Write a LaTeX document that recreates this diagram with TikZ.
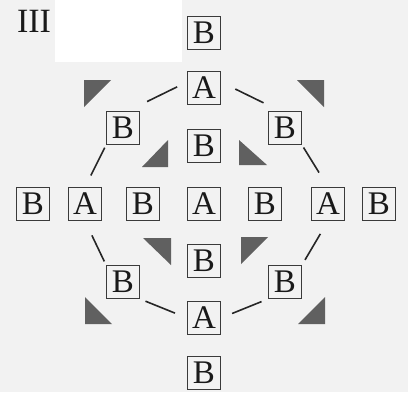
\documentclass[tikz,border=0pt]{standalone}
\usepackage{xcolor}
\usepackage{fontspec}
\setmainfont{Liberation Serif}
\usepackage{tikz}
\usetikzlibrary{positioning}
\definecolor{paper}{HTML}{F2F2F2}
\definecolor{wedgegray}{HTML}{606060}
\definecolor{boxline}{HTML}{3A3A3A}

\tikzset{
  letterbox/.style={draw=boxline, line width=0.9pt, minimum size=33pt, inner sep=0pt,
                    font=\fontsize{33}{33}\selectfont, text=black!90},
  link/.style={line width=1.6pt, draw=black!85},
  wedge/.style={fill=wedgegray}
}

\begin{document}
\begin{tikzpicture}[x=1pt, y=-1pt]
    \fill[paper] (0,0) rectangle (408,392);
    \fill[white] (55,0) rectangle (182,62);
    \useasboundingbox (0,0) rectangle (408,392);

    \node[font=\fontsize{34}{34}\selectfont, text=black!90] (label) at (34,21) {III};

    \node[letterbox] (topB) at (204,33) {B};
    \node[letterbox] (topA) at (204,88) {A};
    \node[letterbox] (leftB) at (123,128) {B};
    \node[letterbox] (rightB) at (285,128) {B};
    \node[letterbox] (upB) at (204,146) {B};

    \node[letterbox] (rowB1) at (33,204) {B};
    \node[letterbox] (rowA1) at (85,204) {A};
    \node[letterbox] (rowB2) at (143,204) {B};
    \node[letterbox] (rowA2) at (204,204) {A};
    \node[letterbox] (rowB3) at (265,204) {B};
    \node[letterbox] (rowA3) at (328,204) {A};
    \node[letterbox] (rowB4) at (379,204) {B};

    \node[letterbox] (downB) at (204,261) {B};
    \node[letterbox] (lowLeftB) at (123,282) {B};
    \node[letterbox] (lowRightB) at (285,282) {B};
    \node[letterbox] (botA) at (204,318) {A};
    \node[letterbox] (botB) at (204,373) {B};

    \draw[link, shorten <=8pt, shorten >=11pt] ([yshift=6pt]leftB.north east) -- ([yshift=6pt]topA.west);
    \draw[link, shorten <=16pt, shorten >=5pt] ([yshift=6pt]topA.east) -- ([yshift=6pt]rightB.north west);
    \draw[link, shorten <=3pt, shorten >=13pt] (leftB.south west) -- (rowA1.north);
    \draw[link, shorten <=3pt, shorten >=17pt] (rightB.south east) -- (rowA3.north);
    \draw[link, shorten <=16pt, shorten >=4pt] (rowA1.south) -- (lowLeftB.north west);
    \draw[link, shorten <=15pt, shorten >=6pt] (rowA3.south) -- (lowRightB.north east);
    \draw[link, shorten <=6pt, shorten >=13pt] (lowLeftB.south east) -- (botA.west);
    \draw[link, shorten <=12pt, shorten >=7pt] (botA.east) -- (lowRightB.south west);

    \fill[wedge] (84,80) -- (111,80) -- (84,107) -- cycle;
    \fill[wedge] (297,80) -- (324,80) -- (324,107) -- cycle;
    \fill[wedge] (168,140) -- (168,167) -- (142,167) -- cycle;
    \fill[wedge] (239,140) -- (239,165) -- (267,165) -- cycle;
    \fill[wedge] (143,238) -- (171,238) -- (171,265) -- cycle;
    \fill[wedge] (241,237) -- (268,237) -- (241,264) -- cycle;
    \fill[wedge] (85,297) -- (85,324) -- (112,324) -- cycle;
    \fill[wedge] (325,297) -- (325,324) -- (298,324) -- cycle;
  \end{tikzpicture}
\end{document}
